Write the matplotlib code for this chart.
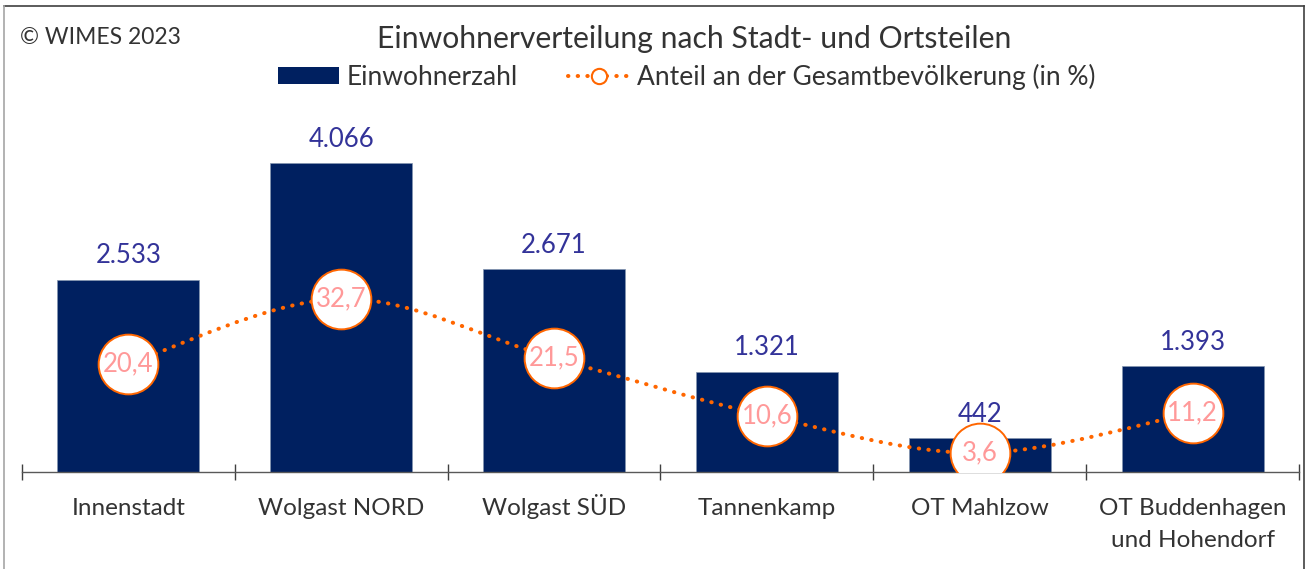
import matplotlib
matplotlib.use('Agg')
import matplotlib.pyplot as plt
from matplotlib.path import Path
from matplotlib.patches import PathPatch, Patch
from matplotlib.lines import Line2D
import numpy as np

plt.rcParams['font.family'] = ['Lato', 'DejaVu Sans']

categories = ['Innenstadt', 'Wolgast NORD', 'Wolgast SÜD', 'Tannenkamp',
              'OT Mahlzow', 'OT Buddenhagen\nund Hohendorf']
einwohner = [2533, 4066, 2671, 1321, 442, 1393]
einwohner_labels = ['2.533', '4.066', '2.671', '1.321', '442', '1.393']
anteil = [20.4, 32.7, 21.5, 10.6, 3.6, 11.2]
anteil_labels = ['20,4', '32,7', '21,5', '10,6', '3,6', '11,2']

navy = '#002060'
orange = '#ff6600'
pink = '#ff9999'
label_blue = '#333399'
text_gray = '#333333'

W, H = 1309, 569
fig = plt.figure(figsize=(W / 100, H / 100), dpi=100)
ax = fig.add_axes([22 / W, 1 - 472 / H, (1299 - 22) / W, (472 - 100) / H])
ax2 = ax.twinx()

x = np.arange(len(categories))

# bars
ax.bar(x, einwohner, width=0.667, color=navy, edgecolor='#8496b0', linewidth=0.5, zorder=2)
for xi, v, lab in zip(x, einwohner, einwohner_labels):
    ax.annotate(lab, (xi, v), xytext=(0, 8), textcoords='offset points',
                ha='center', va='bottom', fontsize=18.5, color=label_blue)

ax.set_xlim(-0.5, 5.5)
ax.set_ylim(0, 4895)
ax2.set_ylim(0, 70.2)

# smoothed dotted line (catmull-rom as bezier segments)
pts = np.column_stack([x, anteil]).astype(float)
ext = np.vstack([pts[0], pts, pts[-1]])
verts = [tuple(pts[0])]
codes = [Path.MOVETO]
for i in range(len(pts) - 1):
    p0, p1, p2, p3 = ext[i], ext[i + 1], ext[i + 2], ext[i + 3]
    c1 = p1 + (p2 - p0) / 6
    c2 = p2 - (p3 - p1) / 6
    verts += [tuple(c1), tuple(c2), tuple(p2)]
    codes += [Path.CURVE4] * 3
curve = PathPatch(Path(verts, codes), facecolor='none', edgecolor=orange,
                  linewidth=2.9, linestyle=(0, (0.1, 2.3)), capstyle='round', zorder=3)
ax2.add_patch(curve)

ax2.plot(x, anteil, linestyle='none', marker='o', markersize=43,
         markerfacecolor='white', markeredgecolor=orange, markeredgewidth=1.4, zorder=4)
for xi, v, lab in zip(x, anteil, anteil_labels):
    ax2.text(xi, v, lab, ha='center', va='center', fontsize=18.5, color=pink, zorder=5)

# axes styling
for s in ['top', 'left', 'right']:
    ax.spines[s].set_visible(False)
    ax2.spines[s].set_visible(False)
ax2.spines['bottom'].set_visible(False)
ax.spines['bottom'].set_color('#595959')
ax.spines['bottom'].set_linewidth(1.0)
ax.set_yticks([])
ax2.set_yticks([])
ax.set_xticks(np.arange(-0.5, 6.0, 1.0))
ax.set_xticklabels([])
ax.tick_params(axis='x', which='major', direction='inout', length=12, width=1.0, color='#404040')

# category labels, each line on its own baseline
for xi, cat in zip(x, categories):
    for k, line in enumerate(cat.split('\n')):
        ax.annotate(line, (xi, 0), xycoords=('data', 'axes fraction'),
                    xytext=(0, -31 - 23 * k), textcoords='offset points',
                    ha='center', va='baseline', fontsize=17.5, color=text_gray)

# title, copyright, legend
fig.text(694 / W, 1 - 39 / H, 'Einwohnerverteilung nach Stadt- und Ortsteilen',
         ha='center', va='center', fontsize=21.7, color=text_gray)
fig.text(20 / W, 1 - 37 / H, '© WIMES 2023', ha='left', va='center', fontsize=16.5, color=text_gray)

handles = [Patch(facecolor=navy, edgecolor='none'),
           Line2D([], [], color=orange, linewidth=2.9, linestyle=(0, (0.1, 2.3)),
                  dash_capstyle='round', marker='o', markersize=11,
                  markerfacecolor='white', markeredgecolor=orange, markeredgewidth=1.5)]
fig.legend(handles, ['Einwohnerzahl', 'Anteil an der Gesamtbevölkerung (in %)'],
           loc='center', bbox_to_anchor=(687 / W, 1 - 77 / H), ncol=2, frameon=False,
           fontsize=19, handlelength=2.3, handleheight=0.6, handletextpad=0.3,
           columnspacing=1.9, labelcolor=text_gray)

# frame around the figure
fig.add_artist(Line2D([4 / W, 1304 / W], [1 - 6 / H, 1 - 6 / H], color='#404040', linewidth=1.2))
fig.add_artist(Line2D([1304 / W, 1304 / W], [0, 1 - 6 / H], color='#404040', linewidth=1.2))
fig.add_artist(Line2D([4 / W, 4 / W], [0, 1 - 6 / H], color='#a6a6a6', linewidth=1.2))

fig.savefig('out.png', dpi=100)
